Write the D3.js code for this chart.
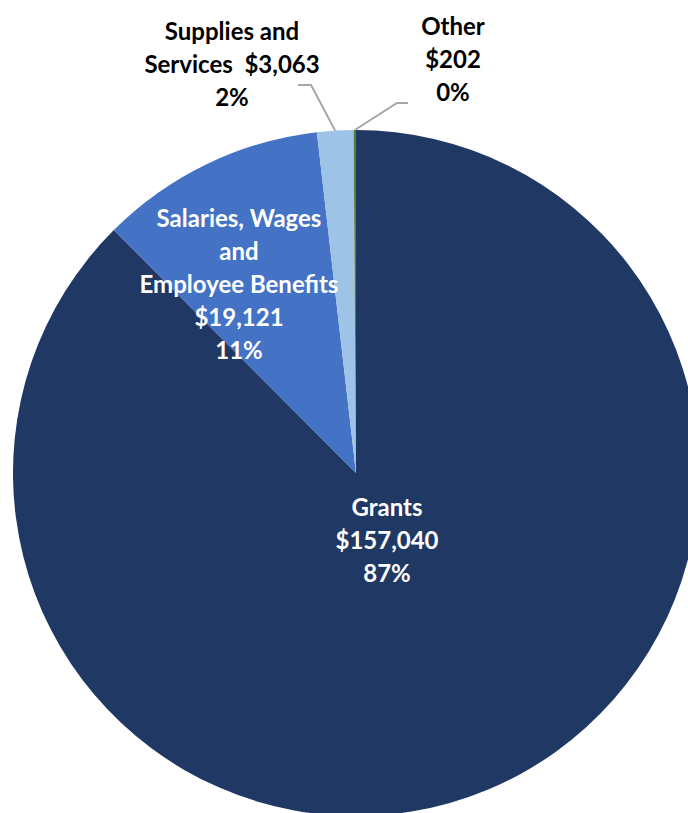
<!DOCTYPE html>
<html>
<head>
<meta charset="utf-8">
<script src="https://cdn.jsdelivr.net/npm/d3@7"></script>
<style>
  body { margin: 0; background: #fff; }
  text { font-family: Lato, "Open Sans", sans-serif; font-weight: bold; }
</style>
</head>
<body>
<script>
const categories = ['Grants', 'Salaries, Wages and Employee Benefits', 'Supplies and Services', 'Other']
const amounts = [157040, 19121, 3063, 202]
const percentLabels = ['87%', '11%', '2%', '0%']
const colors = ['#203864', '#4472C4', '#9DC3E6', '#548235']

// label text lines per slice
const labelLines = [
  ['Grants', '$157,040', '87%'],
  ['Salaries, Wages', 'and', 'Employee Benefits', '$19,121', '11%'],
  ['Supplies and', 'Services  $3,063', '2%'],
  ['Other', '$202', '0%']
]

const width = 688
const height = 813
const cx = 356
const cy = 473
const radius = 343
const lineHeight = 33

const d3 = window.d3

const data = categories.map((c, i) => ({ name: c, value: amounts[i], lines: labelLines[i] }))

const svg = d3.select('body')
  .append('svg')
  .attr('width', width)
  .attr('height', height)

const g = svg.append('g')
  .attr('transform', 'translate(' + cx + ',' + cy + ')')

const pie = d3.pie().sort(null).value((d) => d.value)
const arc = d3.arc().innerRadius(0).outerRadius(radius)
const arcs = pie(data)

g.selectAll('path.slice')
  .data(arcs)
  .enter()
  .append('path')
  .attr('class', 'slice')
  .attr('d', arc)
  .attr('fill', (d, i) => colors[i])

// label centre offsets from the pie centre (layout only)
const labelPos = [
  { x: 31, y: 68, fill: '#fff' },
  { x: -117, y: -188, fill: '#fff' },
  { x: -124, y: -408, fill: '#000' },
  { x: 97, y: -413, fill: '#000' }
]

// leader lines for the two small outside slices
const outerPoint = (d) => {
  const a = (d.startAngle + d.endAngle) / 2
  return [radius * Math.sin(a), -radius * Math.cos(a)]
}
const leaders = [
  { i: 2, pts: (p) => [[-58, -388], [-45, -388], p] },
  { i: 3, pts: (p) => [[52, -370], [41, -370], p] }
]
leaders.forEach((l) => {
  g.append('path')
    .attr('d', d3.line()(l.pts(outerPoint(arcs[l.i]))))
    .attr('fill', 'none')
    .attr('stroke', '#A6A6A6')
    .attr('stroke-width', 2)
})

arcs.forEach((d, i) => {
  const pos = labelPos[i]
  const lines = d.data.lines
  const t = g.append('text')
    .attr('text-anchor', 'middle')
    .attr('fill', pos.fill)
    .style('font-size', '24px')
  lines.forEach((ln, k) => {
    t.append('tspan')
      .attr('x', pos.x)
      .attr('y', pos.y + (k - (lines.length - 1) / 2) * lineHeight)
      .attr('dy', '0.35em')
      .style('white-space', 'pre')
      .text(ln)
  })
})
</script>
</body>
</html>
